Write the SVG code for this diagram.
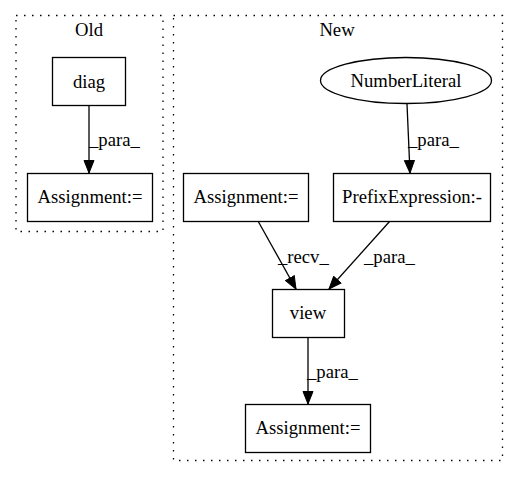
<svg xmlns="http://www.w3.org/2000/svg" width="517" height="480" viewBox="0 0 517 480">
<defs>
<marker id="arr" markerWidth="14" markerHeight="14" refX="13" refY="6.5" orient="auto" markerUnits="userSpaceOnUse">
<path d="M0.5,1.5 L13,6.5 L0.5,11.5 Z" fill="#000" stroke="#000" stroke-width="1"/>
</marker>
<style>
text{font-family:"Liberation Serif","Times New Roman",serif;font-size:18.67px;fill:#000}
.c{fill:none;stroke:#000;stroke-width:1.3;stroke-dasharray:1.5,6.5}
.n{fill:#fff;stroke:#000;stroke-width:1.3}
.e{fill:none;stroke:#000;stroke-width:1.3;marker-end:url(#arr)}
</style>
</defs>
<rect width="517" height="480" fill="#fff"/>
<g id="cluster_old">
<rect class="c" x="16" y="15.5" width="147" height="216"/>
<text x="89" y="36" text-anchor="middle">Old</text>
</g>
<g id="cluster_new">
<rect class="c" x="173.5" y="15.5" width="329" height="445"/>
<text x="337" y="36" text-anchor="middle">New</text>
</g>
<g id="connectors">
<line class="e" x1="89" y1="105" x2="89" y2="173"/>
<text x="89" y="146">_para_</text>
<line class="e" x1="407" y1="104" x2="410" y2="173"/>
<text x="408" y="146">_para_</text>
<line class="e" x1="258" y1="221" x2="296" y2="289"/>
<text x="278" y="263">_recv_</text>
<line class="e" x1="390" y1="221" x2="329" y2="289"/>
<text x="364" y="263">_para_</text>
<line class="e" x1="308" y1="337" x2="308" y2="404"/>
<text x="307" y="378">_para_</text>
</g>
<g id="diag">
<rect class="n" x="52.5" y="57.5" width="73" height="48"/>
<text x="89" y="88" text-anchor="middle">diag</text>
</g>
<g id="assign_old">
<rect class="n" x="27.5" y="173.5" width="125" height="48"/>
<text x="90" y="203" text-anchor="middle">Assignment:=</text>
</g>
<g id="numberliteral">
<ellipse class="n" cx="406" cy="80.5" rx="85.5" ry="23"/>
<text x="406" y="87" text-anchor="middle">NumberLiteral</text>
</g>
<g id="assign_new_top">
<rect class="n" x="183.5" y="173.5" width="125" height="48"/>
<text x="246" y="203" text-anchor="middle">Assignment:=</text>
</g>
<g id="prefix">
<rect class="n" x="333.5" y="173.5" width="157" height="48"/>
<text x="412" y="203" text-anchor="middle">PrefixExpression:-</text>
</g>
<g id="view">
<rect class="n" x="272.5" y="289.5" width="72" height="48"/>
<text x="308" y="319" text-anchor="middle">view</text>
</g>
<g id="assign_new_bottom">
<rect class="n" x="245.5" y="404.5" width="125" height="48"/>
<text x="308" y="434" text-anchor="middle">Assignment:=</text>
</g>
</svg>
